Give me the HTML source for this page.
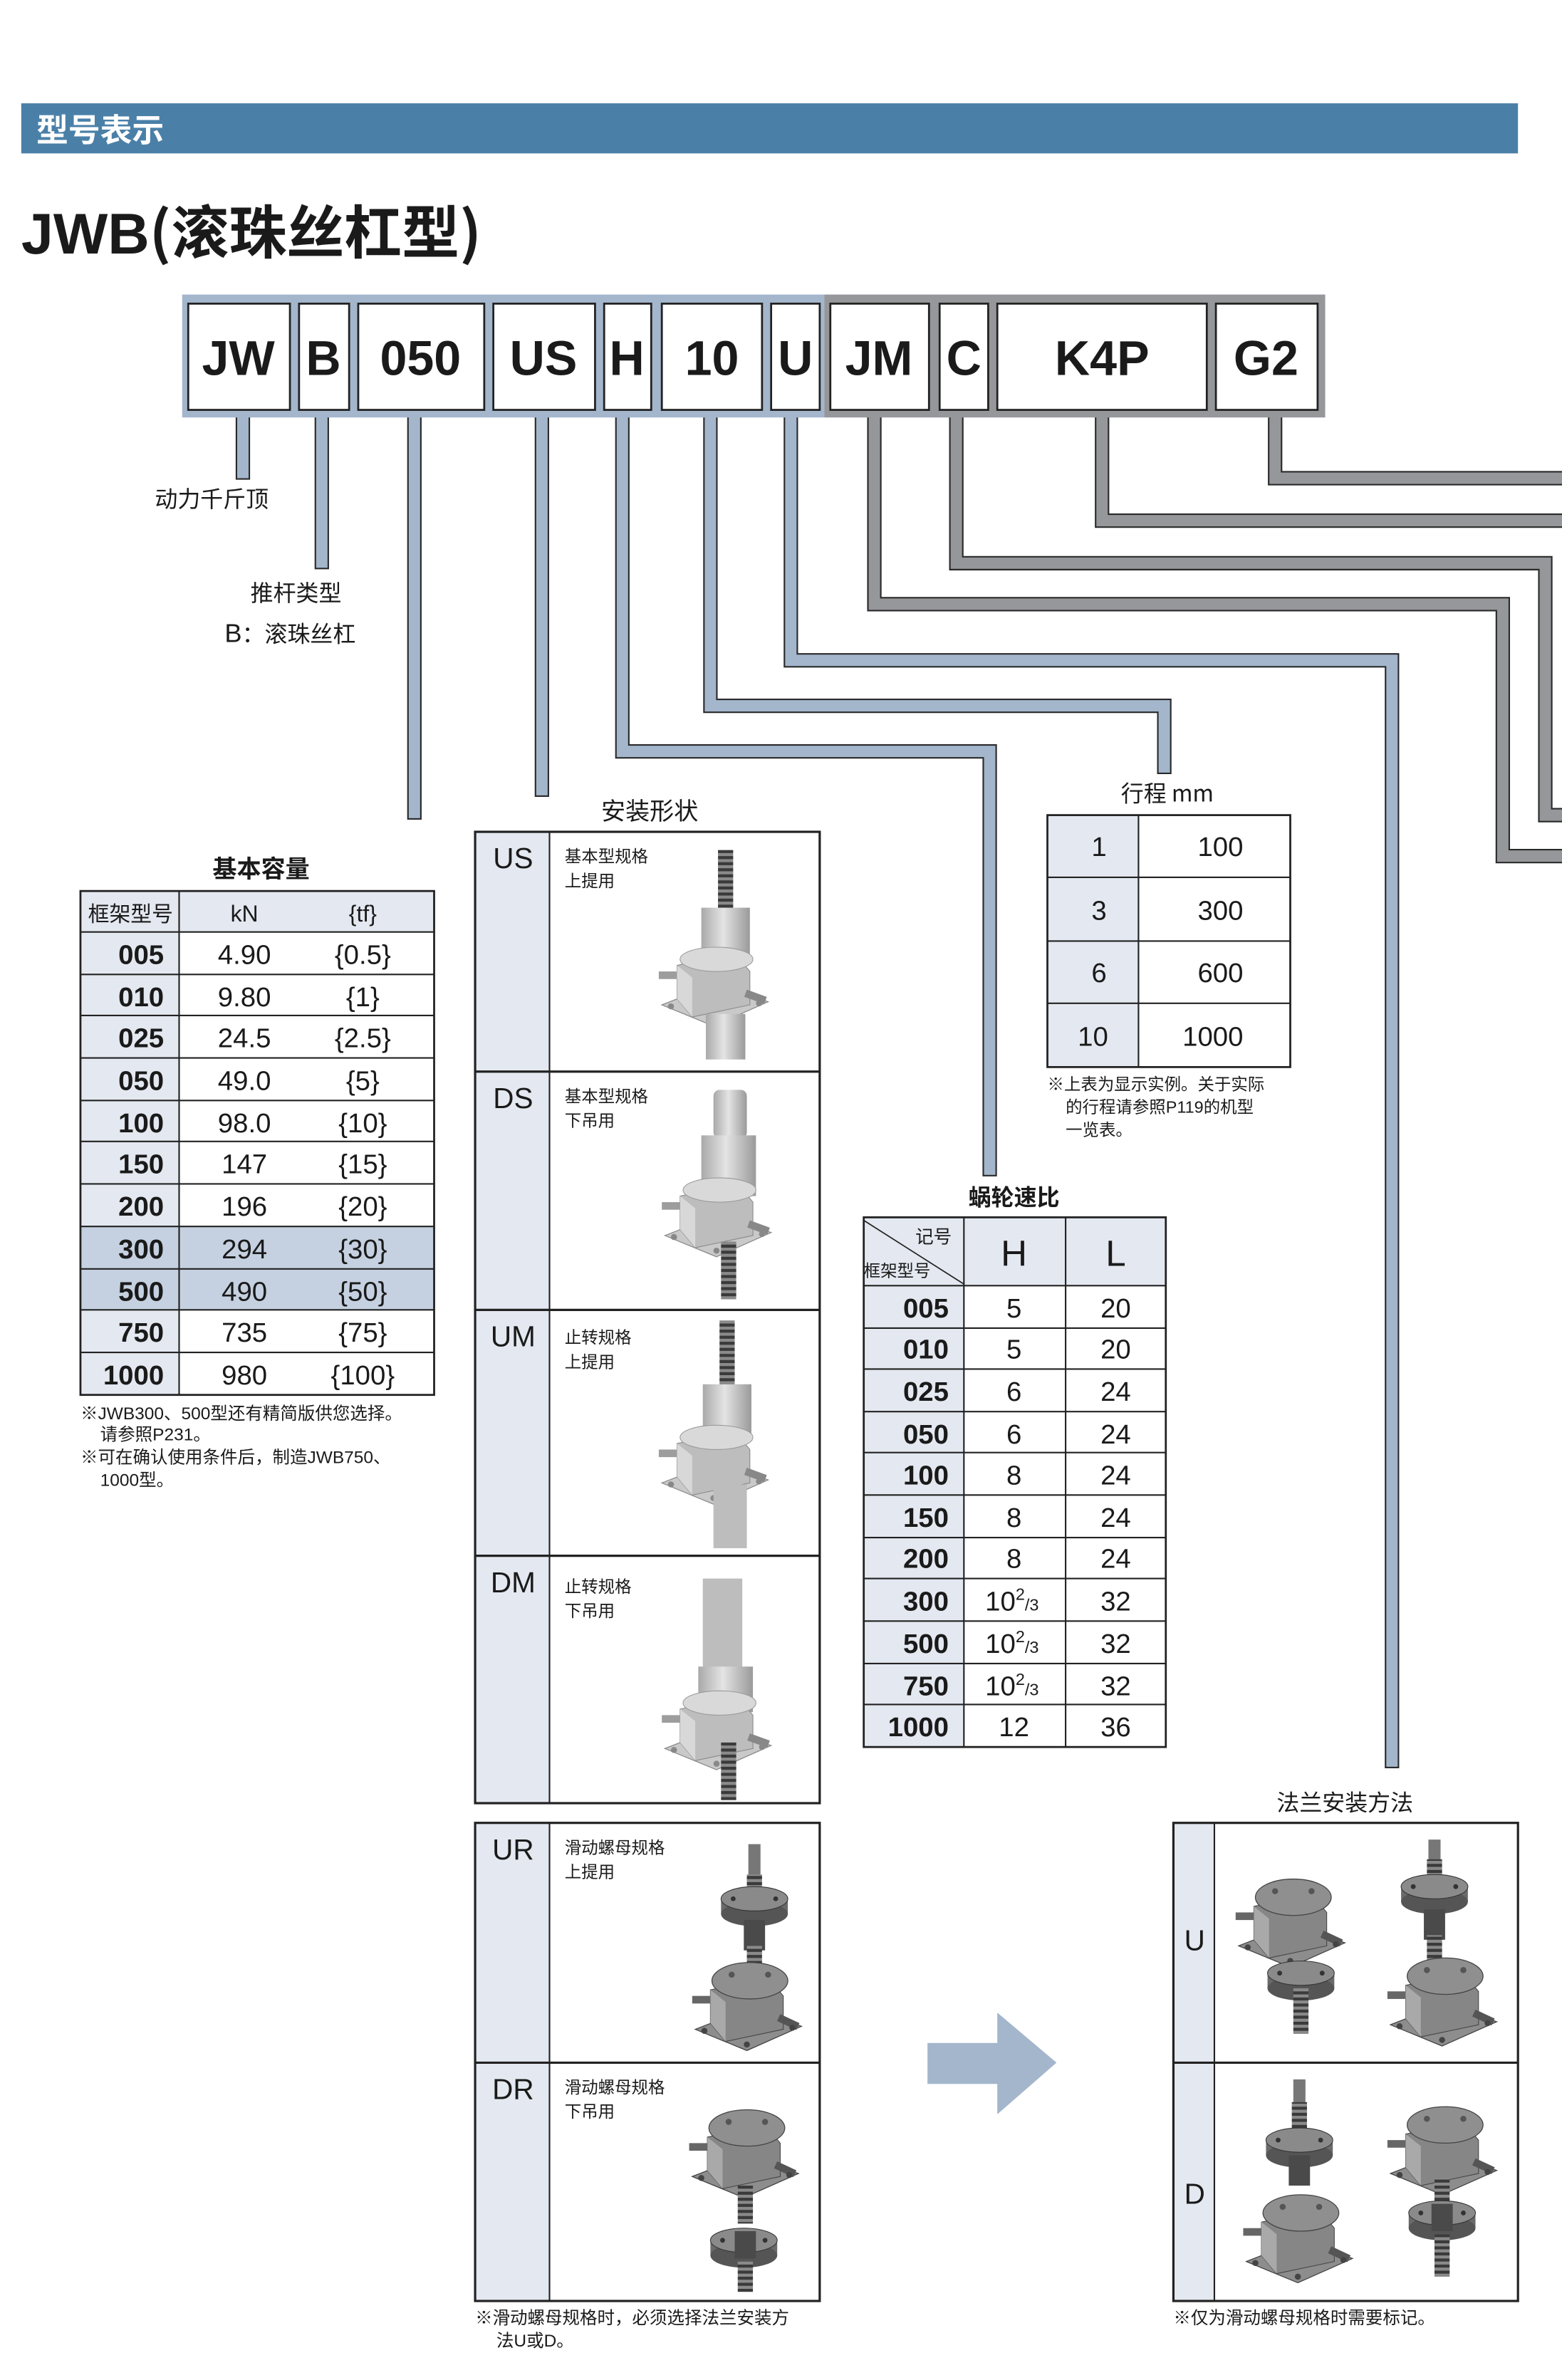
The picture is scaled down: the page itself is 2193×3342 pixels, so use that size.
<!DOCTYPE html>
<html><head><meta charset="utf-8"><style>
html,body{margin:0;padding:0;background:#fff;}
svg{display:block;}
text{font-family:"Liberation Sans","Noto Sans CJK SC",sans-serif;fill:#1a1a1a;}
.cjk{font-family:"Noto Sans CJK SC","Liberation Sans",sans-serif;}
</style></head><body>
<svg width="2193" height="3342" viewBox="0 0 1029 1568" xmlns="http://www.w3.org/2000/svg">
<defs>
<linearGradient id="cyl" x1="0" x2="1" y1="0" y2="0"><stop offset="0" stop-color="#a9a9a9"/><stop offset="0.45" stop-color="#e4e4e4"/><stop offset="1" stop-color="#9a9a9a"/></linearGradient>
<linearGradient id="cyld" x1="0" x2="1" y1="0" y2="0"><stop offset="0" stop-color="#5a5a5a"/><stop offset="0.45" stop-color="#a8a8a8"/><stop offset="1" stop-color="#555"/></linearGradient>
<pattern id="spr" width="10" height="4" patternUnits="userSpaceOnUse"><rect width="10" height="4" fill="#8a8a8a"/><rect y="0" width="10" height="2" fill="#3a3a3a"/></pattern>
<symbol id="gb" viewBox="-40 -30 80 60" overflow="visible">
<polygon points="-34,12 2,-2 36,10 0,26" fill="#c9c9c9" stroke="#8a8a8a" stroke-width="0.6"/>
<polygon points="-24,-14 14,-22 24,-10 24,12 -14,20 -24,8" fill="#bdbdbd" stroke="#888" stroke-width="0.5"/>
<polygon points="-24,-14 -14,-6 -14,20 -24,8" fill="#d8d8d8"/>
<ellipse cx="2" cy="-18" rx="24" ry="8" fill="#d9d9d9" stroke="#999" stroke-width="0.5"/>
<rect x="-36" y="-10" width="12" height="5" fill="#9d9d9d"/>
<rect x="22" y="2" width="14" height="5" fill="#888" transform="rotate(20 22 2)"/>
<circle cx="-28" cy="13" r="2" fill="#888"/><circle cx="30" cy="11" r="2" fill="#888"/><circle cx="0" cy="22" r="2" fill="#888"/>
</symbol>
<symbol id="gbd" viewBox="-40 -30 80 60" overflow="visible">
<polygon points="-34,12 2,-2 36,10 0,26" fill="#8d8d8d" stroke="#444" stroke-width="0.6"/>
<polygon points="-24,-14 14,-22 24,-10 24,12 -14,20 -24,8" fill="#868686" stroke="#444" stroke-width="0.5"/>
<polygon points="-24,-14 -14,-6 -14,20 -24,8" fill="#a9a9a9"/>
<ellipse cx="2" cy="-20" rx="25" ry="12" fill="#8f8f8f" stroke="#444" stroke-width="0.6"/>
<rect x="-36" y="-10" width="12" height="5" fill="#666"/>
<rect x="22" y="2" width="14" height="5" fill="#555" transform="rotate(25 22 2)"/>
<circle cx="-28" cy="13" r="2" fill="#444"/><circle cx="30" cy="11" r="2" fill="#444"/><circle cx="0" cy="22" r="2" fill="#444"/>
<circle cx="-10" cy="-24" r="2" fill="#555"/><circle cx="14" cy="-24" r="2" fill="#555"/>
</symbol>
<symbol id="nut" viewBox="-25 -14 50 28" overflow="visible">
<rect x="-22" y="-6" width="44" height="10" fill="#6a6a6a"/>
<ellipse cx="0" cy="4" rx="22" ry="8" fill="#555"/>
<ellipse cx="0" cy="-6" rx="22" ry="8" fill="#8a8a8a" stroke="#333" stroke-width="0.5"/>
<circle cx="-14" cy="-6" r="1.6" fill="#333"/><circle cx="14" cy="-6" r="1.6" fill="#333"/>
</symbol>
</defs>

<!-- header -->
<rect x="14" y="68" width="986" height="33" fill="#4a80a8"/>
<text x="24" y="93" font-size="21" font-weight="bold" style="fill:#fff" class="cjk">型号表示</text>
<text x="14" y="167" font-size="38" font-weight="bold">JWB<tspan class="cjk">(滚珠丝杠型)</tspan></text>

<!-- connectors -->
<g fill="none" stroke-linejoin="miter" stroke-linecap="butt">
<g stroke="#2a2a2a" stroke-width="9.5">
<path d="M160 270V316"/><path d="M212 270V375"/><path d="M273 270V540"/><path d="M357 270V525"/>
<path d="M410 270V495H652V775"/><path d="M468 270V465H767V510"/><path d="M521 270V435H917V1165"/>
<path d="M576 270V398H990V564H1030"/><path d="M630 270V371H1018V537H1030"/><path d="M726 270V343H1030"/><path d="M840 270V315H1030"/>
</g>
<g stroke="#a3b6cc" stroke-width="7.5">
<path d="M160 270V315"/><path d="M212 270V374"/><path d="M273 270V539"/><path d="M357 270V524"/>
<path d="M410 270V495H652V774"/><path d="M468 270V465H767V509"/><path d="M521 270V435H917V1164"/>
</g>
<g stroke="#96979b" stroke-width="7.5">
<path d="M576 270V398H990V564H1030"/><path d="M630 270V371H1018V537H1030"/><path d="M726 270V343H1030"/><path d="M840 270V315H1030"/>
</g>
</g>

<!-- code bar -->
<rect x="120" y="194" width="423" height="81" fill="#a3b6cc"/>
<rect x="543" y="194" width="330" height="81" fill="#96979b"/>
<g fill="#fff" stroke="#222" stroke-width="1.3">
<rect x="124" y="200" width="67" height="70"/><rect x="197" y="200" width="33" height="70"/><rect x="236" y="200" width="83" height="70"/>
<rect x="325" y="200" width="67" height="70"/><rect x="398" y="200" width="31" height="70"/><rect x="436" y="200" width="66" height="70"/>
<rect x="508" y="200" width="32" height="70"/><rect x="547" y="200" width="65" height="70"/><rect x="619" y="200" width="32" height="70"/>
<rect x="657" y="200" width="138" height="70"/><rect x="801" y="200" width="67" height="70"/>
</g>
<g font-size="32" font-weight="bold" text-anchor="middle">
<text x="157" y="247">JW</text><text x="213" y="247">B</text><text x="277" y="247">050</text><text x="358" y="247">US</text>
<text x="413" y="247">H</text><text x="469" y="247">10</text><text x="524" y="247">U</text><text x="579" y="247">JM</text>
<text x="635" y="247">C</text><text x="726" y="247">K4P</text><text x="834" y="247">G2</text>
</g>

<!-- labels -->
<text x="102" y="334" font-size="15" class="cjk">动力千斤顶</text>
<text x="165" y="396" font-size="15" class="cjk">推杆类型</text>
<text x="148" y="423" font-size="17">B<tspan font-size="15" class="cjk">：滚珠丝杠</tspan></text>

<!-- basic capacity table -->
<text x="172" y="578" font-size="16" text-anchor="middle" class="cjk" font-weight="bold">基本容量</text>
<g>
<rect x="53" y="587" width="233" height="27" fill="#e4e8f0"/>
<rect x="53" y="614" width="65" height="305" fill="#e4e8f0"/>
<rect x="53" y="808" width="233" height="55" fill="#c5d1e0"/>
<g stroke="#222" stroke-width="1" fill="none">
<rect x="53" y="587" width="233" height="332" stroke-width="1.3"/>
<line x1="118" y1="587" x2="118" y2="919"/>
<line x1="53" y1="614" x2="286" y2="614"/><line x1="53" y1="642" x2="286" y2="642"/><line x1="53" y1="669" x2="286" y2="669"/>
<line x1="53" y1="697" x2="286" y2="697"/><line x1="53" y1="725" x2="286" y2="725"/><line x1="53" y1="752" x2="286" y2="752"/>
<line x1="53" y1="780" x2="286" y2="780"/><line x1="53" y1="808" x2="286" y2="808"/><line x1="53" y1="836" x2="286" y2="836"/>
<line x1="53" y1="863" x2="286" y2="863"/><line x1="53" y1="891" x2="286" y2="891"/>
</g>
<text x="86" y="607" font-size="14" text-anchor="middle" class="cjk">框架型号</text>
<text x="161" y="607" font-size="15" text-anchor="middle">kN</text>
<text x="239" y="607" font-size="15" text-anchor="middle">{tf}</text>
<g font-size="18" font-weight="bold" text-anchor="end">
<text x="108" y="635">005</text><text x="108" y="663">010</text><text x="108" y="690">025</text><text x="108" y="718">050</text>
<text x="108" y="746">100</text><text x="108" y="773">150</text><text x="108" y="801">200</text><text x="108" y="829">300</text>
<text x="108" y="857">500</text><text x="108" y="884">750</text><text x="108" y="912">1000</text>
</g>
<g font-size="18" text-anchor="middle">
<text x="161" y="635">4.90</text><text x="161" y="663">9.80</text><text x="161" y="690">24.5</text><text x="161" y="718">49.0</text>
<text x="161" y="746">98.0</text><text x="161" y="773">147</text><text x="161" y="801">196</text><text x="161" y="829">294</text>
<text x="161" y="857">490</text><text x="161" y="884">735</text><text x="161" y="912">980</text>
<text x="239" y="635">{0.5}</text><text x="239" y="663">{1}</text><text x="239" y="690">{2.5}</text><text x="239" y="718">{5}</text>
<text x="239" y="746">{10}</text><text x="239" y="773">{15}</text><text x="239" y="801">{20}</text><text x="239" y="829">{30}</text>
<text x="239" y="857">{50}</text><text x="239" y="884">{75}</text><text x="239" y="912">{100}</text>
</g>
</g>
<g font-size="11.5" class="cjk">
<text x="53" y="935">※JWB300、500型还有精简版供您选择。</text>
<text x="66" y="949">请参照P231。</text>
<text x="53" y="964">※可在确认使用条件后，制造JWB750、</text>
<text x="66" y="979">1000型。</text>
</g>

<!-- install shapes -->
<text x="428" y="540" font-size="16" text-anchor="middle" class="cjk">安装形状</text>
<rect x="313" y="548" width="49" height="640" fill="#e4e8f0"/>
<rect x="313" y="1201" width="49" height="315" fill="#e4e8f0"/>
<g stroke="#222" fill="none" stroke-width="1.5">
<rect x="313" y="548" width="227" height="640"/>
<line x1="362" y1="548" x2="362" y2="1188" stroke-width="1"/>
<line x1="313" y1="706" x2="540" y2="706"/><line x1="313" y1="863" x2="540" y2="863"/><line x1="313" y1="1025" x2="540" y2="1025"/>
<rect x="313" y="1201" width="227" height="315"/>
<line x1="362" y1="1201" x2="362" y2="1516" stroke-width="1"/>
<line x1="313" y1="1359" x2="540" y2="1359"/>
</g>
<g font-size="19" text-anchor="middle">
<text x="338" y="572">US</text><text x="338" y="730">DS</text><text x="338" y="887">UM</text><text x="338" y="1049">DM</text>
<text x="338" y="1225">UR</text><text x="338" y="1383">DR</text>
</g>
<g font-size="11" class="cjk">
<text x="372" y="568">基本型规格</text><text x="372" y="584">上提用</text>
<text x="372" y="726">基本型规格</text><text x="372" y="742">下吊用</text>
<text x="372" y="885">止转规格</text><text x="372" y="901">上提用</text>
<text x="372" y="1049">止转规格</text><text x="372" y="1065">下吊用</text>
<text x="372" y="1221">滑动螺母规格</text><text x="372" y="1237">上提用</text>
<text x="372" y="1379">滑动螺母规格</text><text x="372" y="1395">下吊用</text>
</g>
<g font-size="11.5" class="cjk">
<text x="313" y="1531">※滑动螺母规格时，必须选择法兰安装方</text>
<text x="327" y="1546">法U或D。</text>
<text x="773" y="1531">※仅为滑动螺母规格时需要标记。</text>
</g>

<!-- jacks light -->
<!-- US -->
<rect x="473" y="560" width="10" height="42" fill="url(#spr)"/>
<rect x="462" y="598" width="32" height="36" fill="url(#cyl)"/>
<use href="#gb" x="430" y="620" width="80" height="60"/>
<rect x="465" y="668" width="26" height="30" fill="url(#cyl)"/>
<!-- DS -->
<rect x="470" y="718" width="22" height="32" rx="4" fill="url(#cyl)"/>
<rect x="462" y="748" width="36" height="40" fill="url(#cyl)"/>
<use href="#gb" x="432" y="772" width="80" height="60"/>
<rect x="475" y="818" width="10" height="38" fill="url(#spr)"/>
<!-- UM -->
<rect x="474" y="870" width="10" height="46" fill="url(#spr)"/>
<rect x="463" y="912" width="32" height="36" fill="url(#cyl)"/>
<use href="#gb" x="430" y="935" width="80" height="60"/>
<rect x="470" y="978" width="22" height="42" fill="#bdbdbd"/>
<!-- DM -->
<rect x="463" y="1040" width="26" height="70" fill="#bdbdbd"/>
<rect x="460" y="1098" width="36" height="30" fill="url(#cyl)"/>
<use href="#gb" x="432" y="1110" width="80" height="60"/>
<rect x="475" y="1148" width="10" height="38" fill="url(#spr)"/>

<!-- jacks dark -->
<!-- UR -->
<rect x="493" y="1215" width="8" height="30" fill="#777"/>
<rect x="492" y="1235" width="10" height="30" fill="url(#spr)"/>
<use href="#nut" x="472" y="1243" width="50" height="28"/>
<rect x="490" y="1265" width="14" height="20" fill="#4a4a4a"/>
<rect x="492" y="1282" width="10" height="20" fill="url(#spr)"/>
<use href="#gbd" x="452" y="1295" width="80" height="60"/>
<!-- DR -->
<use href="#gbd" x="450" y="1392" width="80" height="60"/>
<rect x="486" y="1440" width="10" height="25" fill="url(#spr)"/>
<use href="#nut" x="465" y="1468" width="50" height="28"/>
<rect x="484" y="1470" width="14" height="18" fill="#4a4a4a"/>
<rect x="486" y="1490" width="10" height="20" fill="url(#spr)"/>

<!-- arrow -->
<polygon points="611,1346 657,1346 657,1326 696,1359 657,1393 657,1373 611,1373" fill="#a3b6cc"/>

<!-- stroke table -->
<text x="769" y="528" font-size="15" text-anchor="middle" class="cjk">行程 mm</text>
<rect x="690" y="537" width="60" height="166" fill="#e4e8f0"/>
<g stroke="#222" stroke-width="1" fill="none">
<rect x="690" y="537" width="160" height="166" stroke-width="1.3"/>
<line x1="750" y1="537" x2="750" y2="703"/>
<line x1="690" y1="578" x2="850" y2="578"/><line x1="690" y1="620" x2="850" y2="620"/><line x1="690" y1="661" x2="850" y2="661"/>
</g>
<g font-size="18" text-anchor="middle">
<text x="724" y="564">1</text><text x="724" y="606">3</text><text x="724" y="647">6</text><text x="720" y="689">10</text>
<text x="804" y="564">100</text><text x="804" y="606">300</text><text x="804" y="647">600</text><text x="799" y="689">1000</text>
</g>
<g font-size="11" class="cjk">
<text x="690" y="718">※上表为显示实例。关于实际</text>
<text x="702" y="733">的行程请参照P119的机型</text>
<text x="702" y="748">一览表。</text>
</g>

<!-- worm ratio table -->
<text x="668" y="794" font-size="15" text-anchor="middle" class="cjk" font-weight="bold">蜗轮速比</text>
<rect x="569" y="802" width="199" height="45" fill="#e4e8f0"/>
<rect x="569" y="847" width="66" height="304" fill="#e4e8f0"/>
<g stroke="#222" stroke-width="1" fill="none">
<rect x="569" y="802" width="199" height="349" stroke-width="1.3"/>
<line x1="635" y1="802" x2="635" y2="1151"/><line x1="702" y1="802" x2="702" y2="1151"/>
<line x1="569" y1="804" x2="635" y2="846" stroke-width="0.8"/>
<line x1="569" y1="847" x2="768" y2="847"/><line x1="569" y1="875" x2="768" y2="875"/><line x1="569" y1="902" x2="768" y2="902"/>
<line x1="569" y1="930" x2="768" y2="930"/><line x1="569" y1="957" x2="768" y2="957"/><line x1="569" y1="985" x2="768" y2="985"/>
<line x1="569" y1="1013" x2="768" y2="1013"/><line x1="569" y1="1040" x2="768" y2="1040"/><line x1="569" y1="1068" x2="768" y2="1068"/>
<line x1="569" y1="1096" x2="768" y2="1096"/><line x1="569" y1="1123" x2="768" y2="1123"/>
</g>
<text x="603" y="819" font-size="12" class="cjk">记号</text>
<text x="569" y="841" font-size="11" class="cjk">框架型号</text>
<text x="668" y="834" font-size="24" text-anchor="middle">H</text>
<text x="735" y="834" font-size="24" text-anchor="middle">L</text>
<g font-size="18" font-weight="bold" text-anchor="end">
<text x="625" y="868">005</text><text x="625" y="895">010</text><text x="625" y="923">025</text><text x="625" y="951">050</text>
<text x="625" y="978">100</text><text x="625" y="1006">150</text><text x="625" y="1033">200</text><text x="625" y="1061">300</text>
<text x="625" y="1089">500</text><text x="625" y="1117">750</text><text x="625" y="1144">1000</text>
</g>
<g font-size="18" text-anchor="middle">
<text x="668" y="868">5</text><text x="668" y="895">5</text><text x="668" y="923">6</text><text x="668" y="951">6</text>
<text x="668" y="978">8</text><text x="668" y="1006">8</text><text x="668" y="1033">8</text>
<text x="668" y="1144">12</text>
<text x="735" y="868">20</text><text x="735" y="895">20</text><text x="735" y="923">24</text><text x="735" y="951">24</text>
<text x="735" y="978">24</text><text x="735" y="1006">24</text><text x="735" y="1033">24</text><text x="735" y="1061">32</text>
<text x="735" y="1089">32</text><text x="735" y="1117">32</text><text x="735" y="1144">36</text>
</g>
<g font-size="18">
<text x="649" y="1061">10<tspan font-size="11" dy="-7">2</tspan><tspan font-size="11" dy="7">/3</tspan></text>
<text x="649" y="1089">10<tspan font-size="11" dy="-7">2</tspan><tspan font-size="11" dy="7">/3</tspan></text>
<text x="649" y="1117">10<tspan font-size="11" dy="-7">2</tspan><tspan font-size="11" dy="7">/3</tspan></text>
</g>

<!-- flange table -->
<text x="886" y="1193" font-size="15" text-anchor="middle" class="cjk">法兰安装方法</text>
<rect x="773" y="1201" width="27" height="315" fill="#e4e8f0"/>
<g stroke="#222" fill="none" stroke-width="1.5">
<rect x="773" y="1201" width="227" height="315"/>
<line x1="800" y1="1201" x2="800" y2="1516" stroke-width="1"/>
<line x1="773" y1="1359" x2="1000" y2="1359"/>
</g>
<text x="787" y="1285" font-size="19" text-anchor="middle">U</text>
<text x="787" y="1452" font-size="19" text-anchor="middle">D</text>
<!-- U left -->
<use href="#gbd" x="810" y="1240" width="80" height="60"/>
<use href="#nut" x="832" y="1292" width="50" height="28"/>
<rect x="852" y="1310" width="10" height="30" fill="url(#spr)"/>
<!-- U right -->
<rect x="941" y="1212" width="8" height="20" fill="#777"/>
<rect x="940" y="1225" width="10" height="20" fill="url(#spr)"/>
<use href="#nut" x="920" y="1235" width="50" height="28"/>
<rect x="938" y="1258" width="14" height="20" fill="#4a4a4a"/>
<rect x="940" y="1275" width="10" height="20" fill="url(#spr)"/>
<use href="#gbd" x="910" y="1292" width="80" height="60"/>
<!-- D left -->
<rect x="852" y="1370" width="8" height="20" fill="#777"/>
<rect x="851" y="1385" width="10" height="20" fill="url(#spr)"/>
<use href="#nut" x="831" y="1402" width="50" height="28"/>
<rect x="849" y="1420" width="14" height="20" fill="#4a4a4a"/>
<use href="#gbd" x="815" y="1448" width="80" height="60"/>
<!-- D right -->
<use href="#gbd" x="910" y="1390" width="80" height="60"/>
<rect x="945" y="1435" width="10" height="20" fill="url(#spr)"/>
<use href="#nut" x="925" y="1450" width="50" height="28"/>
<rect x="943" y="1452" width="14" height="18" fill="#4a4a4a"/>
<rect x="945" y="1472" width="10" height="28" fill="url(#spr)"/>
</svg>
</body></html>
